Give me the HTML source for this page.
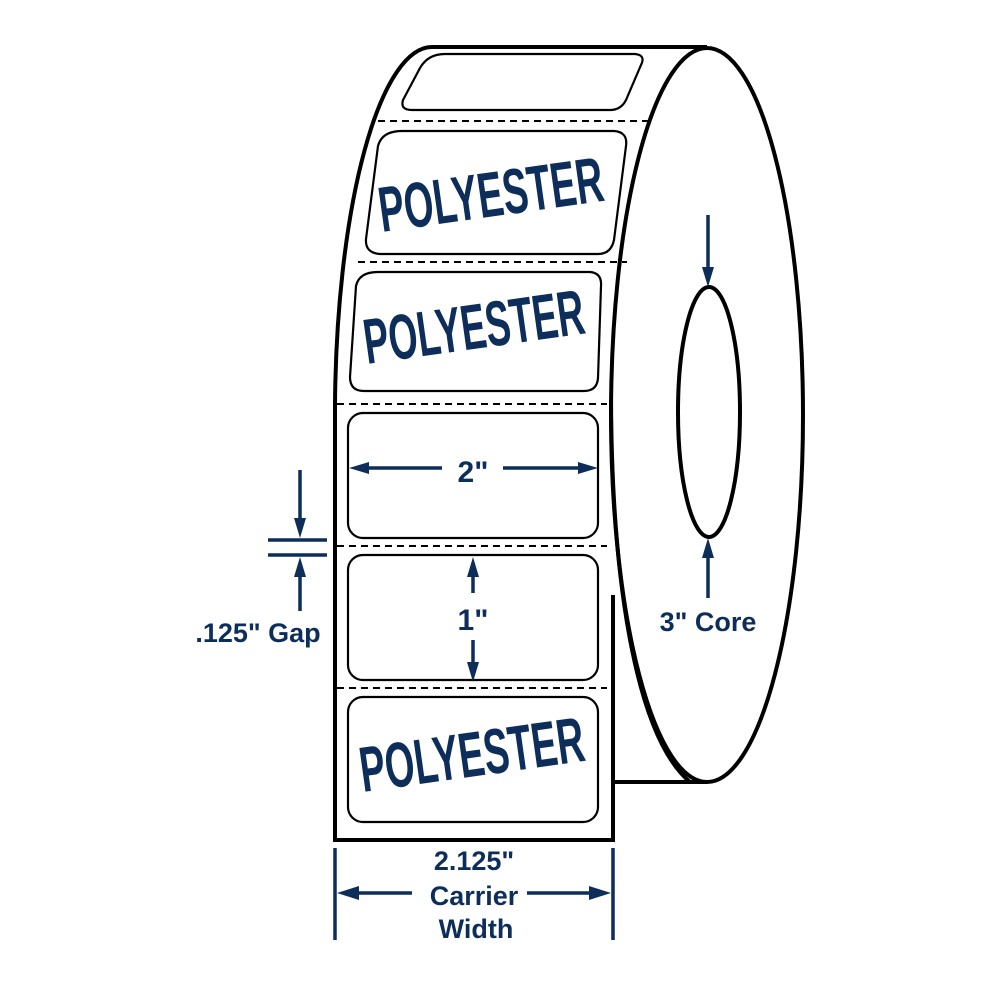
<!DOCTYPE html>
<html><head><meta charset="utf-8"><style>
html,body{margin:0;padding:0;background:#fff;}
svg{display:block}
.t{font-family:"Liberation Sans",sans-serif;font-weight:bold;fill:#0d2d5a}
.p{font-family:"Liberation Sans Narrow","Liberation Sans",sans-serif;font-weight:bold;fill:#0d2d5a}
</style></head><body>
<svg width="1000" height="1000" viewBox="0 0 1000 1000" xmlns="http://www.w3.org/2000/svg">
<g fill="none" stroke="#000" stroke-width="4">
  <line x1="432" y1="47" x2="707" y2="47"/>
  <path d="M432,47 A97,368 0 0 0 335,405"/>
  <path d="M335,400 L335,840 L613,840 L613,595"/>
  <ellipse cx="707" cy="415" rx="96" ry="367"/>
  <path d="M611,400 C612,600 640,740 690,782"/>
  <line x1="613" y1="782" x2="707" y2="782"/>
  <ellipse cx="709" cy="412" rx="31" ry="125"/>
</g>
<g stroke="#000" stroke-width="2" stroke-dasharray="7,5">
  <line x1="378" y1="121" x2="652" y2="121"/>
  <line x1="358" y1="262" x2="627" y2="262"/>
  <line x1="337" y1="404" x2="607" y2="404"/>
  <line x1="337" y1="546" x2="607" y2="546"/>
  <line x1="337" y1="688" x2="607" y2="688"/>
</g>
<g fill="none" stroke="#000" stroke-width="2.2">
  <path d="M445,54 L635,54 Q646,55 641,65 L626,100 Q621,110 610,110 L412,110 Q400,110 403,100 L420,68 Q428,54 445,54 Z"/>
  <path d="M402,131 L614,131 Q628,132 626,146 L614,240 Q611,254 598,254 L380,254 Q365,253 366,239 L378,146 Q382,131 402,131 Z"/>
  <path d="M378,272 L590,272 Q602,273 601,286 L598,378 Q597,391 584,391 L364,391 Q350,391 350,377 L356,286 Q359,272 378,272 Z"/>
  <rect x="348" y="413" width="250" height="125" rx="15"/>
  <rect x="348" y="555" width="250" height="125" rx="15"/>
  <rect x="348" y="697" width="250" height="125" rx="15"/>
</g>
<text class="p" x="382" y="232" font-size="64" textLength="226" lengthAdjust="spacingAndGlyphs" transform="rotate(-8 382 232)">POLYESTER</text>
<text class="p" x="367" y="364" font-size="64" textLength="222" lengthAdjust="spacingAndGlyphs" transform="rotate(-8 367 364)">POLYESTER</text>
<text class="p" x="363" y="792" font-size="64" textLength="226" lengthAdjust="spacingAndGlyphs" transform="rotate(-8 363 792)">POLYESTER</text>
<g stroke="#0d2d5a" stroke-width="3.5" fill="none">
  <line x1="360" y1="468" x2="442" y2="468"/>
  <line x1="503" y1="468" x2="588" y2="468"/>
  <line x1="473" y1="570" x2="473" y2="593"/>
  <line x1="473" y1="640" x2="473" y2="668"/>
  <line x1="300" y1="470" x2="300" y2="525"/>
  <line x1="300" y1="568" x2="300" y2="611"/>
  <line x1="268" y1="540" x2="327" y2="540"/>
  <line x1="268" y1="555" x2="327" y2="555"/>
  <line x1="708" y1="215" x2="708" y2="275"/>
  <line x1="708" y1="550" x2="708" y2="598"/>
  <line x1="335" y1="848" x2="335" y2="940"/>
  <line x1="613" y1="848" x2="613" y2="940"/>
  <line x1="345" y1="893" x2="412" y2="893"/>
  <line x1="527" y1="893" x2="602" y2="893"/>
</g>
<g fill="#0d2d5a">
  <polygon points="349,468 369,462 369,474"/>
  <polygon points="598,468 578,462 578,474"/>
  <polygon points="473,557 467,577 479,577"/>
  <polygon points="473,682 467,662 479,662"/>
  <polygon points="300,538 294,518 306,518"/>
  <polygon points="300,557 294,577 306,577"/>
  <polygon points="708,287 702,267 714,267"/>
  <polygon points="708,538 702,558 714,558"/>
  <polygon points="337,893 359,886 359,900"/>
  <polygon points="611,893 589,886 589,900"/>
</g>
<g class="t" text-anchor="middle">
  <text x="473" y="482" font-size="30">2"</text>
  <text x="473" y="630" font-size="30">1"</text>
  <text x="258" y="642" font-size="27">.125" Gap</text>
  <text x="708" y="631" font-size="27">3" Core</text>
  <text x="474" y="870" font-size="27">2.125"</text>
  <text x="474" y="905" font-size="27">Carrier</text>
  <text x="476" y="938" font-size="27">Width</text>
</g>
</svg>
</body></html>
